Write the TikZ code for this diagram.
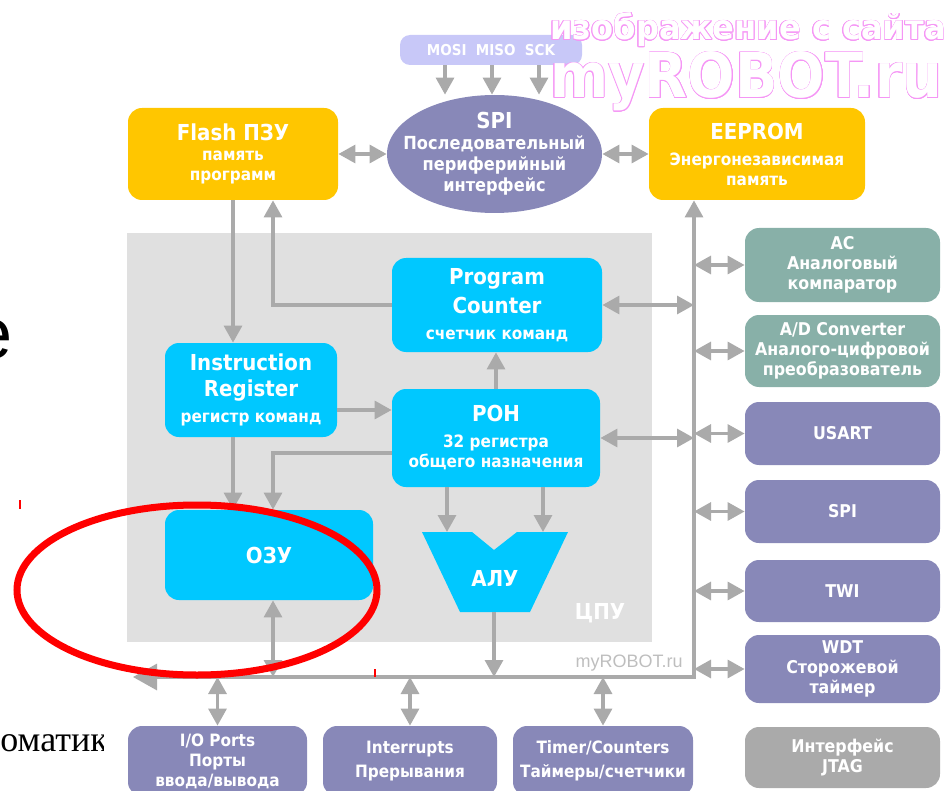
\documentclass[tikz,border=0pt]{standalone}
\usepackage{fontspec}
\setmainfont{DejaVuSansCondensed.ttf}[BoldFont=DejaVuSansCondensed-Bold.ttf]
\newfontfamily\plainsans{Liberation Sans}
\newfontfamily\plainserif{Liberation Serif}
\usepackage[copies]{contour}
\contourlength{0.3pt}
\usetikzlibrary{positioning,arrows.meta,shapes.geometric}

\definecolor{flashyellow}{RGB}{255,198,0}
\definecolor{cpucyan}{RGB}{0,200,255}
\definecolor{ifpurple}{RGB}{136,136,184}
\definecolor{anteal}{RGB}{136,176,168}
\definecolor{jtaggray}{RGB}{170,170,170}
\definecolor{lilac}{RGB}{200,200,248}
\definecolor{cpubg}{RGB}{224,224,224}
\definecolor{arrgray}{RGB}{170,170,170}
\definecolor{wmpink}{RGB}{245,150,245}
\definecolor{wmgray}{RGB}{190,190,190}

\newcommand\boxtitle[1]{{\fontsize{11}{13}\selectfont #1}}

\begin{document}
\begin{tikzpicture}[x=0.5pt, y=-0.5pt,
  >={Triangle[length=8.5pt,width=9pt]},
  box/.style={rounded corners=7pt, align=center, text=white, inner sep=1pt, font=\bfseries\fontsize{8.5}{10}\selectfont},
  ybox/.style={box, fill=flashyellow},
  cbox/.style={box, fill=cpucyan},
  pbox/.style={box, fill=ifpurple},
  tbox/.style={box, fill=anteal},
  gbox/.style={box, fill=jtaggray},
  rbox/.style={minimum width=97.5pt, font=\bfseries\fontsize{8.8}{10}\selectfont},
  bbox/.style={pbox, minimum height=35pt},
  arr/.style={draw=arrgray, line width=1.6pt},
  wm/.style={anchor=base west, inner sep=0pt, text=white}
]
\useasboundingbox (0,0) rectangle (947,791);

% CPU area
\fill[cpubg] (127,233) rectangle (652,642);
\node[font=\bfseries\fontsize{11}{13}\selectfont, text=white] (cpulbl) at (600,613) {ЦПУ};
\node[font=\plainsans\fontsize{9}{10}\selectfont, text=wmgray, anchor=base east, inner sep=0pt] (site) at (683,667) {myROBOT.ru};

% memories and SPI
\node[ybox, minimum width=105pt, minimum height=46pt] (flash) at (233,154) {\boxtitle{Flash ПЗУ}\\ память\\ программ};
\node[ellipse, fill=ifpurple, minimum width=107.5pt, minimum height=59pt, inner sep=0pt] (spi) at (494.5,154) {};
\node[align=center, text=white, font=\bfseries\fontsize{9}{10.5}\selectfont] (spitxt) at (spi.center) {\boxtitle{SPI}\\ Последовательный\\ периферийный\\ интерфейс};
\node[box, fill=lilac, rounded corners=5pt, minimum width=91pt, minimum height=15pt, font=\bfseries\fontsize{7.5}{8}\selectfont] (mosi) at (491,50) {MOSI\ \ MISO\ \ SCK};
\node[ybox, minimum width=108pt, minimum height=46pt] (eeprom) at (757,154) {\boxtitle{EEPROM}\\[3pt] Энергонезависимая\\ память};

% CPU blocks
\node[cbox, minimum width=105pt, minimum height=47pt] (pc) at (497,305) {\boxtitle{Program}\\[3pt] \boxtitle{Counter}\\[3pt] счетчик команд};
\node[cbox, minimum width=86pt, minimum height=47pt] (ir) at (251,390) {\boxtitle{Instruction}\\[3pt] \boxtitle{Register}\\[3pt] регистр команд};
\node[cbox, minimum width=104pt, minimum height=49pt] (ron) at (496,438) {\boxtitle{РОН}\\[3pt] 32 регистра\\ общего назначения};
\node[cbox, minimum width=104pt, minimum height=45pt, font=\bfseries\fontsize{11}{13}\selectfont] (ozu) at (269,555) {ОЗУ};
\fill[cpucyan] (422,532) -- (472,532) -- (494,550) -- (517,532) -- (568,532) -- (530,612) -- (460,612) -- cycle;
\node[text=white, font=\bfseries\fontsize{11}{13}\selectfont] (alu) at (495,578) {АЛУ};
\coordinate (aluA) at (447,532);
\coordinate (aluB) at (543,532);
\coordinate (aluO) at (494,612);

% peripherals
\node[tbox, rbox, minimum height=37pt] (ac) at (842.5,265) {AC\\ Аналоговый\\ компаратор};
\node[tbox, rbox, minimum height=36pt] (adc) at (842.5,351) {A/D Converter\\ Аналого-цифровой\\ преобразователь};
\node[pbox, rbox, minimum height=31.5pt] (usart) at (842.5,433.5) {USART};
\node[pbox, rbox, minimum height=31.5pt] (spib) at (842.5,511.5) {SPI};
\node[pbox, rbox, minimum height=31pt] (twi) at (842.5,591) {TWI};
\node[pbox, rbox, minimum height=34pt] (wdt) at (842.5,669) {WDT\\ Сторожевой\\ таймер};
\node[gbox, rbox, minimum height=30.5pt] (jtag) at (842.5,757.5) {Интерфейс\\ JTAG};

\node[bbox, minimum width=89.5pt] (io) at (217.5,761) {I/O Ports\\ Порты\\ ввода/вывода};
\node[bbox, minimum width=87pt] (irq) at (410,761) {Interrupts\\[2pt] Прерывания};
\node[bbox, minimum width=90pt] (tmr) at (603,761) {Timer/Counters\\[2pt] Таймеры/счетчики};

% bus
\coordinate (busC) at (694,677);
\coordinate (busL) at (133,677);
\coordinate (lane) at (273,0);
\draw[arr, {Triangle[length=8.5pt,width=9pt]}-{Triangle[length=12pt,width=13pt]}] (eeprom.south -| busC) -- (busC) -- (busL);

% connectors
\draw[arr,<->] (flash) -- (spi);
\draw[arr,<->] (spi) -- (eeprom);
\foreach \x in {445,492,539}
  \draw[arr,->] (mosi.south -| \x,0) -- (spi.north -| \x,0);
\draw[arr,->] (flash.south) -- (flash.south |- ir.north);
\draw[arr,->] (pc.west) -| (flash.south -| lane);
\draw[arr,<->] (pc.east) -- (pc.east -| busC);
\draw[arr,->] ([yshift=-10pt]ir.east) -- ([yshift=-10pt]ir.east -| ron.west);
\draw[arr,->] (ron.north) -- (ron.north |- pc.south);
\draw[arr,<->] (ron.east) -- (ron.east -| busC);
\draw[arr,->] (ir.south -| flash.south) -- (ozu.north -| flash.south);
\draw[arr,->] ([yshift=-7.5pt]ron.west) -| (ozu.north -| lane);
\draw[arr,<->] (ozu.south -| lane) -- (busC -| lane);
\draw[arr,->] (ron.south -| aluA) -- (aluA);
\draw[arr,->] (ron.south -| aluB) -- (aluB);
\draw[arr,->] (aluO) -- (aluO |- busC);
\foreach \n in {ac,adc,usart,spib,twi,wdt}
  \draw[arr,<->] (\n.west -| busC) -- (\n.west);
\foreach \n in {io,irq,tmr}
  \draw[arr,<->] (\n.north |- busC) -- (\n.north);

% slide leftovers
\node[font=\plainsans\fontsize{36}{36}\selectfont, anchor=base east, inner sep=0pt] (bigE) at (13,358) {e};
\begin{scope}
  \clip (0,700) rectangle (103,791);
  \node[font=\plainserif\fontsize{18}{18}\selectfont, anchor=base west, inner sep=0pt] (cutword) at (0,751) {оматик};
\end{scope}
\draw[red, line width=3.5pt] (197,590) ellipse [x radius=90pt, y radius=42.5pt];
\draw[red, line width=0.6pt] (20,500) -- (20,509);
\draw[red, line width=0.6pt] (375,669) -- (375,677);

% watermark
\node[wm, font=\bfseries\fontsize{17}{17}\selectfont] (wmline) at (550,40) {\scalebox{1.05}[1]{\contour{wmpink}{изображение с сайта}}};
\node[wm, font=\bfseries\fontsize{31}{31}\selectfont] (wmsite) at (550,98) {\contour{wmpink}{myROBOT.ru}};
\end{tikzpicture}
\end{document}
